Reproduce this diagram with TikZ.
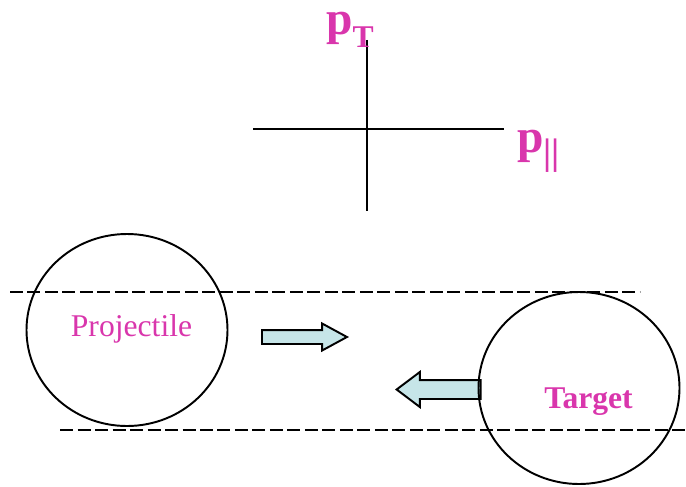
\documentclass[tikz,border=0pt]{standalone}
\usepackage{fontspec}
\setmainfont{Liberation Serif}
\usepackage{graphicx}
\usetikzlibrary{shapes.arrows,shapes.geometric,positioning}
\definecolor{LabelMag}{HTML}{D936AC}
\definecolor{ArrowFill}{HTML}{C6E5E8}
\tikzset{
  axisline/.style={line width=1.1pt,black},
  beamedge/.style={line width=1.1pt,dash pattern=on 0.26cm off 0.09cm},
  nucleus/.style={draw,ellipse,line width=1.1pt,minimum width=4.02cm,minimum height=3.84cm,inner sep=0pt},
  blockarrow/.style={single arrow,draw,fill=ArrowFill,line width=1.1pt,inner xsep=0pt},
  momlabel/.style={LabelMag,font=\fontsize{27pt}{27pt}\selectfont\bfseries,inner sep=0pt,anchor=base west},
}
\newcommand{\momsub}[2][18pt]{\raisebox{-0.27em}{\fontsize{#1}{#1}\selectfont #2}}

\begin{document}
\begin{tikzpicture}
  \useasboundingbox (0,0) rectangle (13.72,9.72);
  % --- momentum axes ---
  \coordinate (axL) at (5.06,7.14);
  \coordinate (axR) at (10.08,7.14);
  \coordinate (axT) at (7.34,8.92);
  \coordinate (axB) at (7.34,5.50);
  \draw[axisline] (axL) -- (axR);
  \draw[axisline] (axT) -- (axB);
  \node[momlabel] (pT) at (6.52,9.02) {p\momsub{T}};
  \node[momlabel] (pL) at (10.34,6.68) {p\momsub[21pt]{||}};

  % --- beam edges ---
  \coordinate (upL) at (0.20,3.88);
  \coordinate (upR) at (12.80,3.88);
  \coordinate (loL) at (1.20,1.12);
  \coordinate (loR) at (13.72,1.12);
  \draw[beamedge] (upL) -- (upR);
  \draw[beamedge] (loL) -- (loR);

  % --- motion arrows ---
  \node[blockarrow,inner ysep=0.12cm,minimum height=1.70cm,
        single arrow head extend=0.13cm,single arrow tip angle=57,anchor=tail]
    (goR) at (5.22,2.98) {};
  \node[blockarrow,inner ysep=0.17cm,minimum height=1.68cm,
        single arrow head extend=0.16cm,single arrow tip angle=74,
        shape border rotate=180,anchor=tip]
    (goL) at (7.90,1.93) {};

  % --- nuclei ---
  \node[nucleus] (proj) at (2.54,3.12) {};
  \node[nucleus] (targ) at (11.58,1.96) {};
  \node[LabelMag,font=\fontsize{18pt}{18pt}\selectfont] (projtxt) at (2.63,3.14) {Projectile};
  \node[LabelMag,font=\fontsize{18pt}{18pt}\selectfont\bfseries] (targtxt) at (11.77,1.68) {Target};
\end{tikzpicture}
\end{document}
